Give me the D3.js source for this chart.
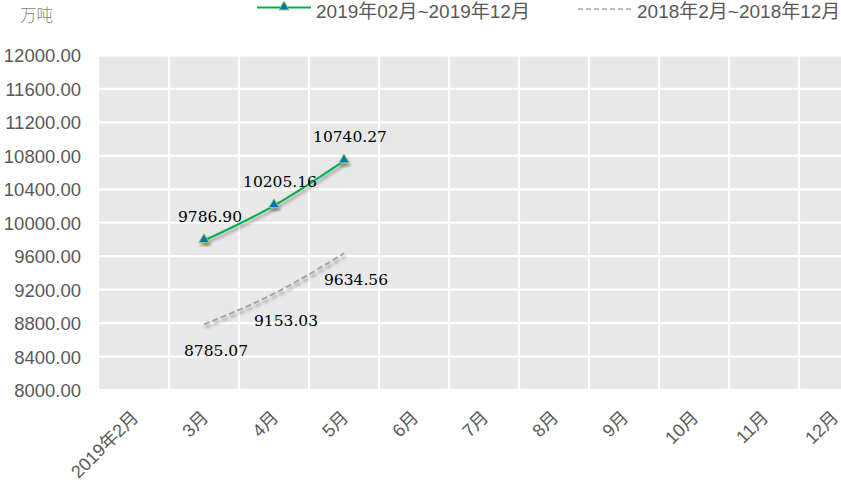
<!DOCTYPE html>
<html><head><meta charset="utf-8">
<script src="https://cdn.jsdelivr.net/npm/d3@7"></script>
<style>
html,body{margin:0;padding:0;background:#fff;}
svg{display:block;}
</style></head>
<body>
<svg id="chart" width="841" height="482"></svg>
<script>
const categories = ["2019年2月","3月","4月","5月","6月","7月","8月","9月","10月","11月","12月"];
const series2019 = [null, 9786.90, 10205.16, 10740.27, null, null, null, null, null, null, null];
const series2018 = [null, 8785.07, 9153.03, 9634.56, null, null, null, null, null, null, null];
const yTicks = [8000, 8400, 8800, 9200, 9600, 10000, 10400, 10800, 11200, 11600, 12000];
const legendNames = ["2019年02月~2019年12月", "2018年2月~2018年12月"];
const unitLabel = "万吨";

(function(){
const svg = d3.select("#chart");
const pL = 99, pR = 869, pT = 55.5, pB = 390;

const x = d3.scaleBand().domain(categories).range([pL, pR]).padding(0);
const y = d3.scaleLinear().domain([8000, 12000]).range([pB, pT]);
const cx = c => x(c) + x.bandwidth() / 2;

const defs = svg.append("defs");
const f = defs.append("filter").attr("id", "shadow").attr("x", "-20%").attr("y", "-50%").attr("width", "140%").attr("height", "200%");
f.append("feDropShadow").attr("dx", 1.5).attr("dy", 3).attr("stdDeviation", 1.6).attr("flood-color", "#000").attr("flood-opacity", 0.35);

// plot background
svg.append("rect").attr("x", pL).attr("y", pT).attr("width", pR - pL).attr("height", pB - pT).attr("fill", "#e8e8e8");

// gridlines
svg.append("g").selectAll("line").data(yTicks).join("line")
  .attr("x1", pL).attr("x2", pR)
  .attr("y1", d => y(d)).attr("y2", d => y(d))
  .attr("stroke", "#fff").attr("stroke-width", 2.2);
svg.append("g").selectAll("line").data(categories.slice(1)).join("line")
  .attr("x1", d => x(d)).attr("x2", d => x(d))
  .attr("y1", pT).attr("y2", pB)
  .attr("stroke", "#fff").attr("stroke-width", 2.2);

// y axis
const yAxis = d3.axisLeft(y).tickValues(yTicks).tickFormat(d3.format(".2f")).tickSize(0).tickPadding(0);
const gy = svg.append("g").attr("transform", "translate(81,0)").call(yAxis);
gy.select(".domain").remove();
gy.selectAll("text").attr("fill", "#595959").attr("font-family", "'Liberation Sans', Arial, sans-serif").attr("font-size", "18.5px").attr("dy", "0.35em");

// x axis
const xAxis = d3.axisBottom(x).tickSize(0).tickPadding(0);
const gx = svg.append("g").call(xAxis);
gx.select(".domain").remove();
gx.selectAll(".tick").attr("transform", d => `translate(${cx(d) + 1},414)`);
gx.selectAll("text").attr("fill", "#595959").attr("font-family", "'Liberation Sans', Arial, 'Noto Sans CJK SC', sans-serif")
  .attr("font-size", "18px").attr("text-anchor", "end").attr("y", 0).attr("dy", "0.35em").attr("transform", "rotate(-45)");

// unit
svg.append("text").attr("x", 20).attr("y", 21).text(unitLabel)
  .attr("fill", "#7f7f7f").attr("font-family", "'Noto Sans CJK SC', sans-serif").attr("font-size", "16.5px").attr("font-weight", 300);

const line = d3.line().defined(d => d.v != null).x(d => cx(d.c)).y(d => y(d.v)).curve(d3.curveMonotoneX);
const d2019 = categories.map((c, i) => ({c, v: series2019[i]}));
const d2018 = categories.map((c, i) => ({c, v: series2018[i]}));

svg.append("path").datum(d2018).attr("d", line).attr("fill", "none")
  .attr("stroke", "#a6a6a6").attr("stroke-width", 2).attr("stroke-dasharray", "6,3").attr("filter", "url(#shadow)");
svg.append("path").datum(d2019).attr("d", line).attr("fill", "none")
  .attr("stroke", "#00b050").attr("stroke-width", 2.2).attr("filter", "url(#shadow)");

const tri = d3.symbol().type(d3.symbolTriangle).size(45);
svg.append("g").selectAll("path").data(d2019.filter(d => d.v != null)).join("path")
  .attr("d", tri).attr("transform", d => `translate(${cx(d.c)},${y(d.v) - 1})`)
  .attr("fill", "#0070c0").attr("stroke", "#92d050").attr("stroke-width", 1).attr("filter", "url(#shadow)");

// data labels
const lblFont = "'DejaVu Serif', 'Liberation Serif', serif";
svg.append("g").selectAll("text").data(d2019.filter(d => d.v != null)).join("text")
  .attr("x", d => cx(d.c) + 6).attr("y", d => y(d.v) - 19)
  .attr("text-anchor", "middle").attr("font-family", lblFont).attr("font-size", "15.5px").attr("fill", "#000")
  .text(d => d3.format(".2f")(d.v));
svg.append("g").selectAll("text").data(d2018.filter(d => d.v != null)).join("text")
  .attr("x", d => cx(d.c) + 12).attr("y", d => y(d.v) + 32)
  .attr("text-anchor", "middle").attr("font-family", lblFont).attr("font-size", "15.5px").attr("fill", "#000")
  .text(d => d3.format(".2f")(d.v));

// legend
const lg = svg.append("g").attr("font-family", "'Liberation Sans', Arial, 'Noto Sans CJK SC', sans-serif").attr("font-size", "19px").attr("fill", "#595959");
lg.append("line").attr("x1", 257).attr("x2", 311).attr("y1", 7.5).attr("y2", 7.5).attr("stroke", "#00b050").attr("stroke-width", 2.2);
lg.append("path").attr("d", tri).attr("transform", "translate(284,7)").attr("fill", "#0070c0").attr("stroke", "#92d050").attr("stroke-width", 1);
lg.append("text").attr("x", 316).attr("y", 18).text(legendNames[0]);
lg.append("line").attr("x1", 578).attr("x2", 632).attr("y1", 9).attr("y2", 9).attr("stroke", "#a6a6a6").attr("stroke-width", 1.5).attr("stroke-dasharray", "5,3");
lg.append("text").attr("x", 637).attr("y", 18).text(legendNames[1]);
})();
</script>
</body></html>
